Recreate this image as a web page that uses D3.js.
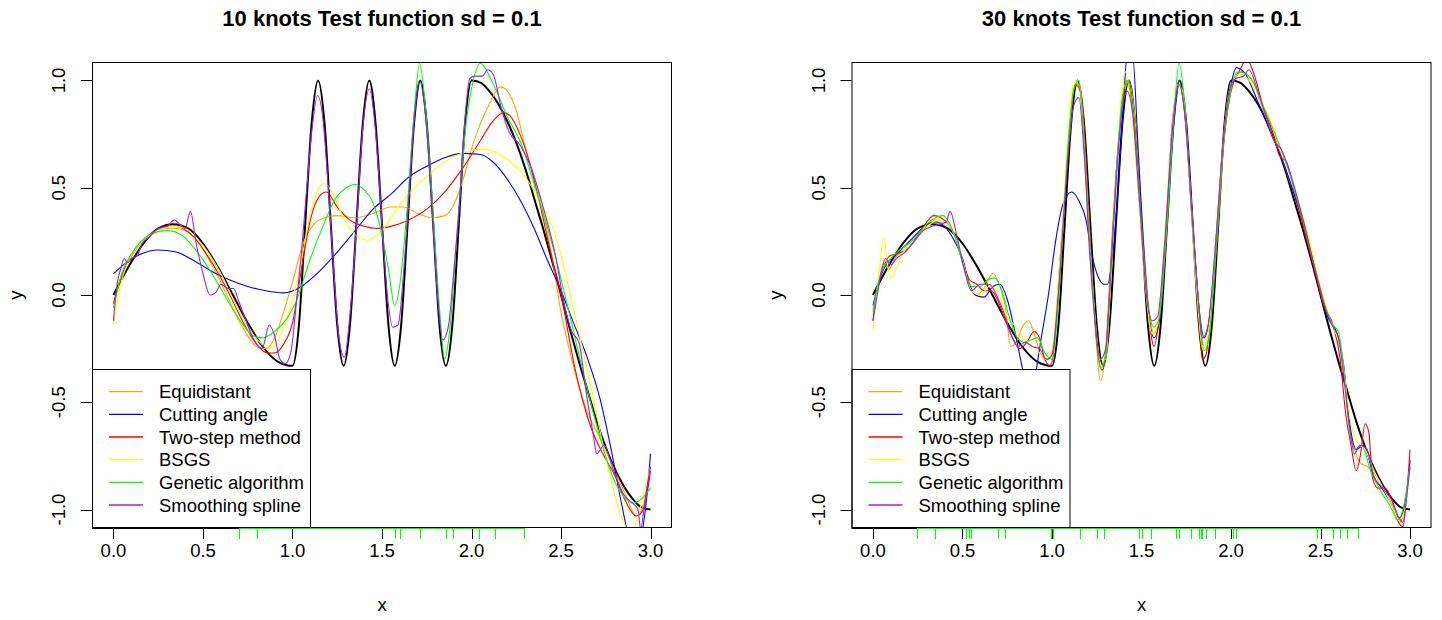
<!DOCTYPE html>
<html>
<head>
<meta charset="utf-8">
<script src="https://d3js.org/d3.v7.min.js"></script>
<style>
  body { margin: 0; background: #fff; }
  text { font-family: "Liberation Sans", Arial, sans-serif; fill: #000; }
</style>
</head>
<body>
<svg id="chart" width="1442" height="620"></svg>
<script>
'use strict';

// ---------------------------------------------------------------------------
// data

var methods = ['Equidistant', 'Cutting angle', 'Two-step method', 'BSGS', 'Genetic algorithm', 'Smoothing spline'];
var methodColors = ['#ffa500', '#0000ff', '#ff0000', '#ffff00', '#00ff00', '#a020f0'];
var xTicks = [0, 0.5, 1, 1.5, 2, 2.5, 3];
var yTicks = [-1, -0.5, 0, 0.5, 1];

// true test function (black)
var truthX = [0, 0.083, 0.167, 0.25, 0.333, 0.417, 0.5, 0.583, 0.667, 0.75, 0.833, 0.917, 1.0,
  1.036, 1.071, 1.107, 1.143, 1.179, 1.214, 1.25, 1.286, 1.321, 1.357, 1.393, 1.429, 1.464, 1.5,
  1.536, 1.571, 1.607, 1.643, 1.679, 1.714, 1.75, 1.786, 1.821, 1.857, 1.893, 1.929, 1.964, 2.0,
  2.05, 2.1, 2.15, 2.2, 2.25, 2.3, 2.35, 2.4, 2.45, 2.5, 2.55, 2.6, 2.65, 2.7, 2.75, 2.8, 2.85, 2.9, 2.95, 3.0];
var truthY = [0, 0.13, 0.24, 0.31, 0.33, 0.31, 0.24, 0.13, 0.00, -0.13, -0.24, -0.31, -0.33,
  -0.14, 0.33, 0.80, 1.00, 0.80, 0.33, -0.14, -0.33, -0.14, 0.33, 0.80, 1.00, 0.80, 0.33,
  -0.14, -0.33, -0.14, 0.33, 0.80, 1.00, 0.80, 0.33, -0.14, -0.33, -0.14, 0.33, 0.80, 1.00,
  0.99, 0.95, 0.89, 0.81, 0.71, 0.59, 0.45, 0.31, 0.16, 0.00, -0.16, -0.31, -0.45, -0.59, -0.71, -0.81, -0.89, -0.95, -0.99, -1.00];

var knots10 = [0.70, 0.80, 1.57, 1.60, 1.71, 1.855, 1.895, 2.04, 2.13, 2.295];
var knots30 = [0.245, 0.345, 0.52, 0.535, 0.55, 0.70, 0.74, 0.995, 1.005, 1.155, 1.25, 1.29, 1.485, 1.50,
  1.555, 1.69, 1.71, 1.775, 1.82, 1.83, 1.84, 1.86, 1.91, 2.01, 2.03, 2.48, 2.57, 2.61, 2.65, 2.71];

// 10 knots fits
var equi10 = [[0,-0.04],[0.05,0.1],[0.1,0.19],[0.2,0.28],[0.3,0.31],[0.35,0.31],[0.45,0.27],[0.55,0.14],[0.65,-0.03],
  [0.72,-0.15],[0.8,-0.24],[0.85,-0.25],[0.9,-0.2],[0.95,-0.08],[1.0,0.06],[1.06,0.24],[1.12,0.33],[1.18,0.36],[1.25,0.37],
  [1.35,0.36],[1.45,0.38],[1.55,0.41],[1.62,0.41],[1.7,0.38],[1.78,0.36],[1.85,0.37],[1.9,0.42],[1.95,0.53],[2.0,0.68],
  [2.05,0.8],[2.1,0.89],[2.16,0.97],[2.2,0.95],[2.25,0.86],[2.3,0.69],[2.38,0.46],[2.45,0.18],[2.5,-0.08],[2.56,-0.3],
  [2.64,-0.53],[2.72,-0.67],[2.78,-0.78],[2.86,-0.93],[2.92,-1.03],[2.96,-0.98],[3.0,-0.8]];
var cut10 = [[0,0.1],[0.07,0.15],[0.15,0.19],[0.25,0.21],[0.35,0.2],[0.45,0.16],[0.55,0.11],[0.65,0.07],[0.75,0.04],
  [0.85,0.02],[0.95,0.01],[1.05,0.04],[1.15,0.11],[1.25,0.2],[1.35,0.3],[1.45,0.4],[1.55,0.47],[1.65,0.55],[1.75,0.6],
  [1.85,0.64],[1.95,0.66],[2.05,0.655],[2.12,0.62],[2.2,0.54],[2.28,0.43],[2.35,0.31],[2.42,0.17],[2.5,0.02],[2.57,-0.13],
  [2.65,-0.3],[2.72,-0.49],[2.78,-0.72],[2.84,-0.98],[2.88,-1.12],[2.93,-1.15],[2.97,-1.01],[3.0,-0.74]];
var two10 = [[0,-0.04],[0.05,0.1],[0.1,0.18],[0.2,0.28],[0.3,0.32],[0.35,0.32],[0.45,0.27],[0.55,0.15],[0.65,0.0],
  [0.72,-0.12],[0.8,-0.23],[0.86,-0.27],[0.9,-0.27],[0.95,-0.23],[1.0,-0.13],[1.05,0.12],[1.1,0.35],[1.15,0.46],[1.19,0.48],
  [1.25,0.41],[1.32,0.35],[1.4,0.32],[1.47,0.31],[1.55,0.32],[1.65,0.35],[1.75,0.4],[1.85,0.48],[1.95,0.59],[2.05,0.72],
  [2.12,0.81],[2.18,0.85],[2.22,0.83],[2.27,0.75],[2.32,0.63],[2.38,0.43],[2.45,0.17],[2.5,0.0],[2.58,-0.35],[2.66,-0.6],
  [2.74,-0.75],[2.8,-0.84],[2.86,-0.96],[2.92,-1.03],[2.96,-1.0],[3.0,-0.82]];
var bsgs10 = [[0,-0.14],[0.04,0.05],[0.08,0.15],[0.15,0.24],[0.25,0.3],[0.33,0.32],[0.4,0.31],[0.5,0.23],[0.6,0.1],
  [0.68,-0.04],[0.76,-0.16],[0.83,-0.23],[0.87,-0.25],[0.92,-0.21],[0.98,-0.08],[1.04,0.12],[1.1,0.38],[1.15,0.5],
  [1.18,0.52],[1.22,0.48],[1.28,0.37],[1.35,0.28],[1.42,0.255],[1.5,0.3],[1.6,0.42],[1.72,0.53],[1.85,0.62],[1.98,0.67],
  [2.06,0.68],[2.15,0.66],[2.22,0.62],[2.3,0.55],[2.38,0.44],[2.46,0.3],[2.52,0.12],[2.56,-0.03],[2.62,-0.25],
  [2.68,-0.48],[2.74,-0.72],[2.8,-0.93],[2.85,-1.06],[2.88,-1.1],[2.92,-1.06],[2.96,-0.93],[3.0,-0.8]];
var gen10 = [[0,-0.06],[0.05,0.11],[0.1,0.19],[0.2,0.28],[0.3,0.3],[0.38,0.28],[0.45,0.22],[0.55,0.1],[0.62,0.0],
  [0.7,-0.11],[0.78,-0.19],[0.83,-0.2],[0.9,-0.17],[0.95,-0.13],[1.02,-0.03],[1.1,0.17],[1.17,0.32],[1.24,0.45],[1.3,0.5],
  [1.35,0.515],[1.4,0.49],[1.45,0.43],[1.5,0.28],[1.54,0.1],[1.57,-0.05],[1.6,0.05],[1.64,0.4],[1.68,0.85],[1.71,1.08],
  [1.74,0.9],[1.78,0.45],[1.82,-0.05],[1.85,-0.3],[1.88,-0.15],[1.92,0.3],[1.97,0.8],[2.01,1.0],[2.05,1.08],[2.1,1.02],
  [2.15,0.93],[2.2,0.83],[2.27,0.72],[2.36,0.49],[2.45,0.24],[2.55,-0.1],[2.65,-0.45],[2.72,-0.67],[2.79,-0.85],
  [2.85,-0.94],[2.9,-0.97],[2.95,-0.95],[3.0,-0.9]];
var smooth10 = [[0,-0.12],[0.02,0.05],[0.04,0.12],[0.06,0.17],[0.08,0.15],[0.1,0.17],[0.13,0.18],[0.16,0.24],[0.2,0.27],
  [0.25,0.31],[0.3,0.32],[0.34,0.35],[0.37,0.33],[0.4,0.31],[0.43,0.39],[0.46,0.25],[0.5,0.1],[0.54,0.0],[0.57,0.01],
  [0.6,0.05],[0.64,0.03],[0.67,0.03],[0.7,-0.03],[0.74,-0.12],[0.78,-0.2],[0.83,-0.25],[0.87,-0.14],[0.9,-0.19],
  [0.93,-0.3],[0.96,-0.32],[0.99,-0.27],[1.02,-0.05],[1.05,0.2],[1.08,0.5],[1.11,0.78],[1.14,0.93],[1.17,0.82],[1.2,0.5],
  [1.23,0.12],[1.26,-0.2],[1.29,-0.29],[1.32,-0.1],[1.36,0.35],[1.39,0.75],[1.43,0.96],[1.46,0.8],[1.5,0.33],[1.53,0.0],
  [1.56,-0.15],[1.59,-0.14],[1.62,0.1],[1.65,0.45],[1.68,0.82],[1.71,1.0],[1.74,0.86],[1.78,0.4],[1.81,0.0],[1.84,-0.21],
  [1.87,-0.15],[1.9,0.1],[1.93,0.4],[1.96,0.78],[1.99,1.01],[2.02,1.02],[2.06,1.02],[2.09,1.05],[2.12,1.03],[2.17,0.86],
  [2.21,0.76],[2.27,0.7],[2.33,0.6],[2.4,0.41],[2.47,0.18],[2.52,-0.05],[2.56,-0.17],[2.6,-0.22],[2.64,-0.45],
  [2.68,-0.65],[2.7,-0.74],[2.74,-0.7],[2.79,-0.81],[2.85,-0.93],[2.9,-0.97],[2.93,-1.0],[2.945,-1.09],[2.97,-0.95],[3.0,-0.8]];

// 30 knots fits
var equi30 = [[0,-0.1],[0.03,0.05],[0.06,0.15],[0.09,0.12],[0.12,0.17],[0.16,0.2],[0.2,0.22],[0.25,0.27],[0.3,0.32],
  [0.35,0.35],[0.4,0.34],[0.45,0.29],[0.5,0.15],[0.55,0.02],[0.58,0.0],[0.62,0.03],[0.67,0.1],[0.7,0.06],[0.74,-0.06],
  [0.77,-0.24],[0.8,-0.22],[0.84,-0.14],[0.87,-0.12],[0.9,-0.18],[0.94,-0.28],[0.98,-0.3],[1.01,-0.22],[1.04,0.1],
  [1.07,0.45],[1.1,0.8],[1.13,0.99],[1.16,0.95],[1.19,0.6],[1.22,0.15],[1.25,-0.25],[1.27,-0.4],[1.3,-0.25],[1.33,0.2],
  [1.36,0.6],[1.4,0.92],[1.43,1.0],[1.46,0.85],[1.5,0.4],[1.54,-0.05],[1.57,-0.18],[1.6,-0.1],[1.64,0.3],[1.68,0.8],
  [1.71,1.0],[1.74,0.85],[1.78,0.4],[1.82,-0.05],[1.85,-0.24],[1.88,-0.15],[1.92,0.25],[1.96,0.7],[2.0,0.95],[2.06,1.04],
  [2.12,1.0],[2.18,0.86],[2.25,0.72],[2.3,0.6],[2.36,0.45],[2.42,0.3],[2.48,0.08],[2.54,-0.1],[2.6,-0.2],[2.63,-0.35],
  [2.66,-0.6],[2.69,-0.72],[2.72,-0.78],[2.76,-0.8],[2.8,-0.83],[2.85,-0.9],[2.9,-0.98],[2.94,-1.06],[2.96,-1.03],[3.0,-0.78]];
var cut30 = [[0,-0.05],[0.04,0.08],[0.08,0.15],[0.12,0.18],[0.18,0.23],[0.25,0.29],[0.3,0.33],[0.35,0.34],[0.4,0.32],
  [0.45,0.26],[0.5,0.17],[0.54,0.05],[0.57,0.0],[0.62,-0.01],[0.67,0.04],[0.71,0.05],[0.75,-0.02],[0.8,-0.2],[0.84,-0.36],
  [0.87,-0.45],[0.9,-0.4],[0.94,-0.2],[0.98,0.0],[1.02,0.25],[1.06,0.42],[1.11,0.48],[1.15,0.44],[1.19,0.35],[1.22,0.2],
  [1.26,0.08],[1.29,0.05],[1.31,0.05],[1.34,0.2],[1.37,0.5],[1.4,0.9],[1.42,1.12],[1.45,1.12],[1.48,0.7],[1.51,0.25],
  [1.54,-0.08],[1.57,-0.2],[1.6,-0.12],[1.64,0.3],[1.68,0.8],[1.71,1.0],[1.74,0.88],[1.78,0.4],[1.82,-0.05],[1.85,-0.2],
  [1.88,-0.1],[1.92,0.3],[1.96,0.75],[2.0,0.98],[2.03,1.06],[2.08,1.03],[2.15,0.9],[2.22,0.76],[2.3,0.6],[2.36,0.45],
  [2.42,0.28],[2.48,0.08],[2.54,-0.1],[2.6,-0.2],[2.63,-0.33],[2.66,-0.58],[2.7,-0.72],[2.74,-0.7],[2.8,-0.85],
  [2.85,-0.91],[2.9,-0.98],[2.94,-1.04],[2.97,-0.98],[3.0,-0.77]];
var two30 = [[0,-0.12],[0.03,0.05],[0.06,0.13],[0.09,0.18],[0.12,0.19],[0.16,0.2],[0.2,0.22],[0.25,0.28],[0.3,0.34],
  [0.34,0.37],[0.38,0.36],[0.42,0.33],[0.46,0.27],[0.5,0.16],[0.54,0.07],[0.58,0.05],[0.62,0.02],[0.66,0.02],[0.7,-0.03],
  [0.74,-0.12],[0.78,-0.2],[0.82,-0.25],[0.86,-0.22],[0.9,-0.17],[0.93,-0.2],[0.96,-0.3],[0.99,-0.33],[1.01,-0.26],
  [1.04,0.1],[1.07,0.45],[1.1,0.8],[1.13,0.98],[1.16,0.95],[1.19,0.62],[1.22,0.15],[1.25,-0.22],[1.28,-0.35],[1.3,-0.28],
  [1.33,0.15],[1.36,0.58],[1.39,0.88],[1.42,1.0],[1.45,0.85],[1.49,0.42],[1.53,0.0],[1.57,-0.24],[1.6,-0.1],[1.64,0.3],
  [1.67,0.78],[1.71,0.98],[1.74,0.86],[1.78,0.4],[1.82,-0.05],[1.84,-0.3],[1.86,-0.28],[1.88,-0.15],[1.92,0.25],
  [1.96,0.72],[2.0,0.95],[2.05,1.05],[2.09,1.1],[2.12,1.05],[2.18,0.88],[2.24,0.74],[2.27,0.65],[2.31,0.62],[2.35,0.5],
  [2.4,0.33],[2.46,0.14],[2.52,-0.05],[2.57,-0.14],[2.61,-0.3],[2.64,-0.55],[2.67,-0.7],[2.7,-0.82],[2.72,-0.76],
  [2.75,-0.6],[2.77,-0.64],[2.79,-0.85],[2.82,-0.9],[2.86,-0.9],[2.9,-0.96],[2.93,-1.05],[2.96,-1.08],[2.98,-0.95],[3.0,-0.72]];
var bsgs30 = [[0,-0.16],[0.02,0.0],[0.04,0.15],[0.06,0.27],[0.08,0.15],[0.1,0.08],[0.13,0.12],[0.17,0.2],[0.22,0.24],
  [0.27,0.29],[0.32,0.33],[0.36,0.35],[0.4,0.34],[0.45,0.29],[0.5,0.16],[0.55,0.02],[0.6,0.0],[0.65,0.04],[0.7,0.01],
  [0.75,-0.1],[0.8,-0.15],[0.84,-0.2],[0.88,-0.23],[0.92,-0.26],[0.96,-0.3],[1.0,-0.26],[1.03,0.0],[1.06,0.35],[1.09,0.75],
  [1.12,0.98],[1.15,1.0],[1.18,0.7],[1.21,0.25],[1.24,-0.1],[1.27,-0.3],[1.3,-0.3],[1.33,0.1],[1.36,0.55],[1.39,0.95],
  [1.41,1.04],[1.44,0.9],[1.48,0.5],[1.52,0.05],[1.56,-0.18],[1.59,-0.14],[1.62,0.15],[1.66,0.65],[1.7,0.98],[1.73,0.95],
  [1.77,0.5],[1.81,0.0],[1.84,-0.25],[1.87,-0.2],[1.91,0.2],[1.95,0.65],[1.99,0.95],[2.05,1.03],[2.12,0.98],[2.2,0.85],
  [2.28,0.68],[2.36,0.48],[2.44,0.25],[2.5,0.04],[2.56,-0.13],[2.62,-0.28],[2.66,-0.55],[2.7,-0.68],[2.75,-0.72],
  [2.8,-0.82],[2.85,-0.9],[2.9,-0.98],[2.94,-1.05],[2.97,-1.0],[3.0,-0.8]];
var gen30 = [[0,-0.08],[0.03,0.06],[0.06,0.13],[0.1,0.17],[0.15,0.21],[0.2,0.24],[0.25,0.28],[0.3,0.33],[0.35,0.36],
  [0.39,0.37],[0.43,0.33],[0.47,0.24],[0.51,0.12],[0.55,0.04],[0.6,0.04],[0.64,0.07],[0.68,0.08],[0.72,0.02],[0.76,-0.1],
  [0.8,-0.19],[0.84,-0.22],[0.88,-0.21],[0.92,-0.2],[0.96,-0.27],[1.0,-0.3],[1.03,-0.1],[1.06,0.3],[1.09,0.7],[1.12,0.95],
  [1.15,1.0],[1.18,0.7],[1.21,0.25],[1.24,-0.1],[1.27,-0.34],[1.3,-0.28],[1.33,0.15],[1.36,0.58],[1.39,0.9],[1.42,1.0],
  [1.45,0.88],[1.49,0.45],[1.53,0.0],[1.57,-0.15],[1.6,-0.1],[1.64,0.3],[1.68,0.82],[1.71,1.08],[1.74,0.9],[1.78,0.4],
  [1.82,-0.05],[1.85,-0.26],[1.88,-0.18],[1.92,0.25],[1.96,0.72],[2.0,0.96],[2.04,1.04],[2.1,1.02],[2.18,0.88],[2.26,0.72],
  [2.33,0.56],[2.4,0.35],[2.47,0.12],[2.53,-0.06],[2.57,-0.14],[2.6,-0.17],[2.63,-0.35],[2.66,-0.62],[2.69,-0.72],
  [2.73,-0.7],[2.78,-0.82],[2.84,-0.92],[2.9,-1.0],[2.93,-1.05],[2.96,-1.0],[3.0,-0.8]];
var smooth30 = [[0,-0.12],[0.03,0.03],[0.05,0.12],[0.07,0.17],[0.1,0.14],[0.13,0.17],[0.18,0.2],[0.23,0.25],[0.28,0.3],
  [0.33,0.32],[0.37,0.33],[0.41,0.34],[0.43,0.39],[0.47,0.27],[0.51,0.12],[0.55,0.02],[0.6,0.05],[0.65,0.05],[0.69,0.0],
  [0.73,-0.08],[0.77,-0.18],[0.81,-0.24],[0.85,-0.22],[0.89,-0.24],[0.93,-0.25],[0.97,-0.3],[1.0,-0.28],[1.03,-0.05],
  [1.06,0.3],[1.09,0.65],[1.12,0.88],[1.15,0.92],[1.18,0.65],[1.21,0.2],[1.24,-0.12],[1.27,-0.3],[1.3,-0.25],[1.33,0.12],
  [1.36,0.55],[1.39,0.85],[1.42,0.95],[1.45,0.85],[1.49,0.42],[1.53,-0.02],[1.56,-0.12],[1.59,-0.1],[1.63,0.25],
  [1.67,0.75],[1.71,0.98],[1.74,0.86],[1.78,0.4],[1.82,-0.05],[1.84,-0.2],[1.87,-0.15],[1.91,0.2],[1.95,0.65],[1.99,0.95],
  [2.03,1.01],[2.07,1.02],[2.1,1.05],[2.15,0.95],[2.2,0.82],[2.24,0.72],[2.28,0.68],[2.33,0.57],[2.4,0.36],[2.47,0.12],
  [2.53,-0.07],[2.57,-0.15],[2.6,-0.2],[2.63,-0.38],[2.66,-0.6],[2.69,-0.74],[2.72,-0.7],[2.76,-0.72],[2.8,-0.85],
  [2.85,-0.9],[2.9,-0.96],[2.94,-1.04],[2.96,-1.06],[2.98,-0.95],[3.0,-0.8]];

// ---------------------------------------------------------------------------

var svg = d3.select('#chart');
svg.append('rect').attr('width', 1442).attr('height', 620).attr('fill', '#fff');

function drawPanel(opts) {
  var top = 62, bottom = 528;
  var x = d3.scaleLinear().domain([-0.12, 3.12]).range([opts.left, opts.left + 580]);
  var y = d3.scaleLinear().domain([-1.086, 1.086]).range([bottom, top]);
  var g = svg.append('g').attr('class', 'panel');

  g.append('clipPath')
    .attr('id', opts.id + '-clip')
    .append('rect')
    .attr('x', x.range()[0])
    .attr('y', top)
    .attr('width', 580)
    .attr('height', bottom - top);

  var plot = g.append('g').attr('clip-path', 'url(#' + opts.id + '-clip)');
  var line = d3.line()
    .x(function(d) { return x(d[0]); })
    .y(function(d) { return y(d[1]); })
    .curve(d3.curveMonotoneX);

  // true function first, fits drawn on top of it
  plot.append('path')
    .attr('d', line(d3.zip(truthX, truthY)))
    .attr('fill', 'none')
    .attr('stroke', '#000')
    .attr('stroke-width', 2);
  plot.selectAll('path.fit')
    .data(opts.fits)
    .enter().append('path')
    .attr('class', 'fit')
    .attr('d', function(f) { return line(f); })
    .attr('fill', 'none')
    .attr('stroke', function(f, i) { return methodColors[i]; })
    .attr('stroke-width', 1.1);

  // legend (white filled, covers the curves)
  var legend = g.append('g').attr('transform', 'translate(' + x.range()[0] + ',369)');
  legend.append('rect')
    .attr('x', 0.5).attr('y', 0.5)
    .attr('width', 218).attr('height', bottom - 369)
    .attr('fill', '#fff')
    .attr('stroke', '#000');
  var item = legend.selectAll('g.item')
    .data(methods)
    .enter().append('g')
    .attr('class', 'item')
    .attr('transform', function(m, i) { return 'translate(0,' + (22.7 + i * 22.66) + ')'; });
  item.append('line')
    .attr('x1', 17).attr('x2', 51)
    .attr('stroke', function(m, i) { return methodColors[i]; })
    .attr('stroke-width', 1.3);
  item.append('text')
    .attr('x', 67)
    .attr('dy', '0.36em')
    .style('font-size', '18.5px')
    .text(function(m) { return m; });

  // frame
  g.append('rect')
    .attr('x', x.range()[0] + 0.5).attr('y', top + 0.5)
    .attr('width', 579).attr('height', bottom - top - 1)
    .attr('fill', 'none')
    .attr('stroke', '#000');

  // x axis
  g.selectAll('line.xtick')
    .data(xTicks)
    .enter().append('line')
    .attr('class', 'xtick')
    .attr('x1', function(d) { return Math.round(x(d)) + 0.5; })
    .attr('x2', function(d) { return Math.round(x(d)) + 0.5; })
    .attr('y1', bottom).attr('y2', bottom + 11)
    .attr('stroke', '#000');
  g.selectAll('text.xlab')
    .data(xTicks)
    .enter().append('text')
    .attr('class', 'xlab')
    .attr('x', function(d) { return x(d); })
    .attr('y', 557)
    .attr('text-anchor', 'middle')
    .style('font-size', '18.5px')
    .text(function(d) { return d3.format('.1f')(d); });

  // y axis
  g.selectAll('line.ytick')
    .data(yTicks)
    .enter().append('line')
    .attr('class', 'ytick')
    .attr('x1', x.range()[0] - 11).attr('x2', x.range()[0])
    .attr('y1', function(d) { return Math.round(y(d)) + 0.5; })
    .attr('y2', function(d) { return Math.round(y(d)) + 0.5; })
    .attr('stroke', '#000');
  g.selectAll('text.ylab')
    .data(yTicks)
    .enter().append('text')
    .attr('class', 'ylab')
    .attr('transform', function(d) {
      return 'translate(' + (x.range()[0] - 27) + ',' + y(d) + ') rotate(-90)';
    })
    .attr('text-anchor', 'middle')
    .style('font-size', '18.5px')
    .text(function(d) { return d3.format('.1f')(d).replace('\u2212', '-'); });

  // knot rug
  var kx = d3.extent(opts.knots);
  g.append('line')
    .attr('x1', x(kx[0])).attr('x2', x(kx[1]))
    .attr('y1', bottom + 0.5).attr('y2', bottom + 0.5)
    .attr('stroke', '#00ff00');
  g.selectAll('line.knot')
    .data(opts.knots)
    .enter().append('line')
    .attr('class', 'knot')
    .attr('x1', function(k) { return Math.round(x(k)) + 0.5; })
    .attr('x2', function(k) { return Math.round(x(k)) + 0.5; })
    .attr('y1', bottom).attr('y2', bottom + 11)
    .attr('stroke', '#00ff00');

  // titles
  g.append('text')
    .attr('x', (x.range()[0] + x.range()[1]) / 2)
    .attr('y', 26)
    .attr('text-anchor', 'middle')
    .style('font-size', '22px')
    .style('font-weight', 'bold')
    .text(opts.title);
  g.append('text')
    .attr('x', (x.range()[0] + x.range()[1]) / 2)
    .attr('y', 611)
    .attr('text-anchor', 'middle')
    .style('font-size', '18.5px')
    .text('x');
  g.append('text')
    .attr('transform', 'translate(' + (x.range()[0] - 70) + ',' + y(0) + ') rotate(-90)')
    .attr('text-anchor', 'middle')
    .style('font-size', '18.5px')
    .text('y');
}

drawPanel({
  id: 'k10', left: 92, title: '10 knots Test function sd = 0.1', knots: knots10,
  fits: [equi10, cut10, two10, bsgs10, gen10, smooth10]
});
drawPanel({
  id: 'k30', left: 851.5, title: '30 knots Test function sd = 0.1', knots: knots30,
  fits: [equi30, cut30, two30, bsgs30, gen30, smooth30]
});
</script>
</body>
</html>
